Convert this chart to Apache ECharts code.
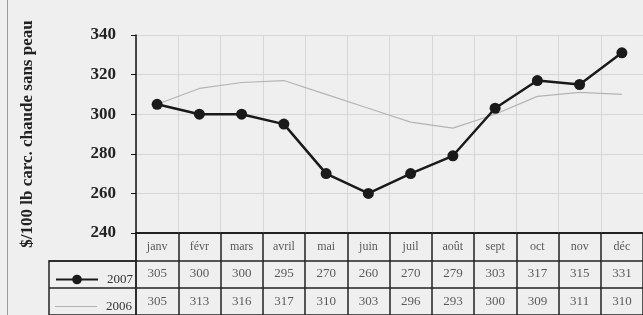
<!DOCTYPE html>
<html>
<head>
<meta charset="utf-8">
<script src="https://cdn.jsdelivr.net/npm/echarts@6/dist/echarts.min.js"></script>
<style>
  html, body { margin: 0; padding: 0; background: #efefef; }
  #chart { width: 643px; height: 315px; }
  #frame { position: absolute; left: 7px; top: 0; width: 1px; height: 315px; background: #9a9a9a; }
</style>
</head>
<body>
<div id="chart"></div>
<div id="frame"></div>
<script>
var months = ['janv', 'févr', 'mars', 'avril', 'mai', 'juin', 'juil', 'août', 'sept', 'oct', 'nov', 'déc'];
var prix2007 = [305, 300, 300, 295, 270, 260, 270, 279, 303, 317, 315, 331];
var prix2006 = [305, 313, 316, 317, 310, 303, 296, 293, 300, 309, 311, 310];
var yTicks = { min: 240, max: 340, step: 20 };
var tableRows = ['mois', '2007', '2006'];

var serif = '"Liberation Serif", "DejaVu Serif", serif';

// cellules du tableau : [colonne, ligne]
function rowCells(rowIdx, values){
  var out = [];
  for(var i = 0; i < values.length; i++){
    out.push({ value: [i, rowIdx], label: { formatter: String(values[i]) } });
  }
  return out;
}

var legendText = { fontFamily: serif, fontSize: 13, color: '#333', padding: [0, 0, 0, 4] };

var chart = echarts.init(document.getElementById('chart'));

chart.setOption({
  backgroundColor: '#efefef',
  animation: false,
  textStyle: { fontFamily: serif },
  legend: [{
    data: ['2007'],
    left: 50,
    top: 268,
    itemWidth: 42,
    itemHeight: 12,
    selectedMode: false,
    textStyle: legendText
  }, {
    data: [{ name: '2006', icon: 'rect' }],
    left: 50,
    top: 295,
    itemWidth: 42,
    itemHeight: 1.2,
    selectedMode: false,
    textStyle: legendText
  }],
  grid: [
    { left: 136, right: 0, top: 35, bottom: 82 },
    { left: 136, right: 0, top: 233, height: 84 },
    { left: 49, width: 87, top: 261, height: 56 }
  ],
  xAxis: [{
    gridIndex: 0,
    type: 'category',
    data: months,
    boundaryGap: true,
    axisLine: { lineStyle: { color: '#111', width: 1.5 } },
    axisTick: { show: false },
    axisLabel: { show: false },
    splitLine: { show: true, lineStyle: { color: '#d6d6d6', width: 1 } }
  }, {
    gridIndex: 1,
    type: 'category',
    data: months,
    boundaryGap: true,
    axisLine: { show: false },
    axisTick: { show: false },
    axisLabel: { show: false },
    splitLine: { show: true, lineStyle: { color: '#222', width: 1.5 } }
  }, {
    gridIndex: 2,
    type: 'category',
    data: [''],
    position: 'top',
    axisLine: { lineStyle: { color: '#222', width: 1.5 } },
    axisTick: { show: false },
    axisLabel: { show: false }
  }],
  yAxis: [{
    gridIndex: 0,
    type: 'value',
    min: yTicks.min,
    max: yTicks.max,
    interval: yTicks.step,
    name: '$/100 lb carc. chaude sans peau',
    nameLocation: 'middle',
    nameGap: 100,
    nameTextStyle: { fontFamily: serif, fontWeight: 'bold', fontSize: 17, color: '#222' },
    axisLine: { show: true, lineStyle: { color: '#111', width: 1.5 } },
    axisTick: { show: true, length: 5, lineStyle: { color: '#111' } },
    axisLabel: { fontFamily: serif, fontWeight: 'bold', fontSize: 17, color: '#222', margin: 20 },
    splitLine: { lineStyle: { color: '#d6d6d6', width: 1 } }
  }, {
    gridIndex: 1,
    type: 'category',
    data: tableRows,
    inverse: true,
    axisLine: { show: true, lineStyle: { color: '#222', width: 1.5 } },
    axisTick: { show: false },
    axisLabel: { show: false },
    splitLine: { show: true, lineStyle: { color: '#222', width: 1.5 } }
  }, {
    gridIndex: 2,
    type: 'category',
    data: tableRows.slice(1),
    inverse: true,
    axisLine: { show: true, lineStyle: { color: '#222', width: 1.5 } },
    axisTick: { show: false },
    axisLabel: { show: false },
    splitLine: { show: true, lineStyle: { color: '#222', width: 1.5 } }
  }],
  series: [{
    name: '2006',
    type: 'line',
    xAxisIndex: 0,
    yAxisIndex: 0,
    data: prix2006,
    symbol: 'none',
    lineStyle: { color: '#b4b4b4', width: 1.2 },
    itemStyle: { color: '#b4b4b4' }
  }, {
    name: '2007',
    type: 'line',
    xAxisIndex: 0,
    yAxisIndex: 0,
    data: prix2007,
    symbol: 'circle',
    symbolSize: 11,
    lineStyle: { color: '#1a1a1a', width: 2.5 },
    itemStyle: { color: '#1a1a1a' }
  }, {
    name: 'tableau-mois',
    type: 'scatter',
    xAxisIndex: 1,
    yAxisIndex: 1,
    symbolSize: 0,
    silent: true,
    data: rowCells(0, months),
    label: { show: true, position: 'inside', fontFamily: serif, fontSize: 12, color: '#333' }
  }, {
    name: 'tableau-2007',
    type: 'scatter',
    xAxisIndex: 1,
    yAxisIndex: 1,
    symbolSize: 0,
    silent: true,
    data: rowCells(1, prix2007),
    label: { show: true, position: 'inside', fontFamily: serif, fontSize: 13, color: '#333' }
  }, {
    name: 'tableau-2006',
    type: 'scatter',
    xAxisIndex: 1,
    yAxisIndex: 1,
    symbolSize: 0,
    silent: true,
    data: rowCells(2, prix2006),
    label: { show: true, position: 'inside', fontFamily: serif, fontSize: 13, color: '#333' }
  }]
});
</script>
</body>
</html>
